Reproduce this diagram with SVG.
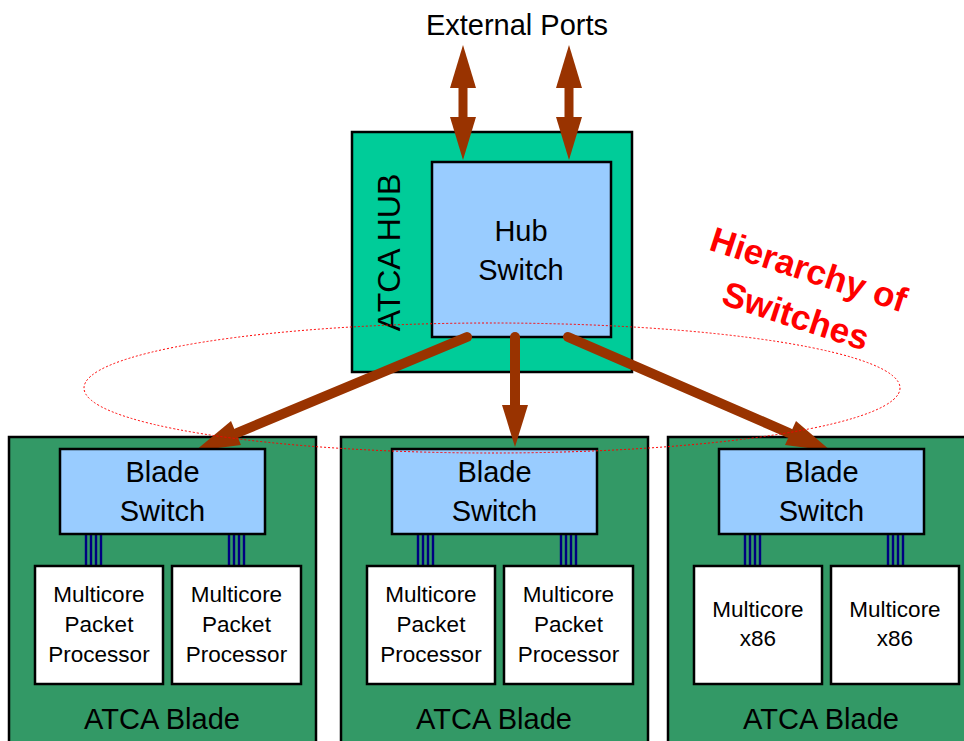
<svg xmlns="http://www.w3.org/2000/svg" width="964" height="741" viewBox="0 0 964 741">
<style>
text{font-family:"Liberation Sans",Arial,sans-serif;fill:#000;text-anchor:middle}
.t29{font-size:29px}
.t22{font-size:22.5px}
.hub{fill:#00CC99;stroke:#000;stroke-width:2.5}
.blade{fill:#339966;stroke:#000;stroke-width:2.5}
.sw{fill:#99CCFF;stroke:#000;stroke-width:2.5}
.cpu{fill:#fff;stroke:#000;stroke-width:2.5}
.bus{stroke:#000080;stroke-width:2.4;fill:none}
.shaft{stroke:#993300;stroke-linecap:round;fill:none}
.head{fill:#993300}
.red{font-size:35px;font-weight:bold;fill:#FF0000}
</style>
<rect width="964" height="741" fill="#fff"/>

<g id="external-ports"><text class="t29" x="517" y="35">External Ports</text></g>

<g id="atca-hub">
<rect class="hub" x="352" y="132" width="280" height="240"/>
<text style="font-size:32px" transform="translate(400,252.5) rotate(-90)" x="0" y="0">ATCA HUB</text>
</g>
<g id="hub-switch">
<rect class="sw" x="432" y="162" width="179" height="175"/>
<text class="t29" x="521" y="241">Hub</text>
<text class="t29" x="521" y="280">Switch</text>
</g>

<g id="blade-1">
<rect class="blade" x="9" y="437" width="307" height="320"/>
<text class="t29" x="162" y="729">ATCA Blade</text>
</g>
<g id="blade-2">
<rect class="blade" x="341" y="437" width="307" height="320"/>
<text class="t29" x="494" y="729">ATCA Blade</text>
</g>
<g id="blade-3">
<rect class="blade" x="668" y="437" width="307" height="320"/>
<text class="t29" x="821" y="729">ATCA Blade</text>
</g>

<g id="connectors">
<line class="shaft" stroke-width="9" x1="463" y1="86" x2="463" y2="119"/>
<polygon class="head" points="463,45 476,88 450,88"/>
<polygon class="head" points="463,160 476,117 450,117"/>
<line class="shaft" stroke-width="9" x1="569" y1="86" x2="569" y2="119"/>
<polygon class="head" points="569,45 582,88 556,88"/>
<polygon class="head" points="569,160 582,117 556,117"/>
<line class="shaft" stroke-width="10" x1="467" y1="337" x2="237" y2="433"/>
<polygon class="head" points="195,451 241,445 231,421"/>
<line class="shaft" stroke-width="10" x1="515" y1="337" x2="515" y2="408"/>
<polygon class="head" points="515,447 528,405 502,405"/>
<line class="shaft" stroke-width="10" x1="568" y1="337" x2="789" y2="433"/>
<polygon class="head" points="831,451 785,445 796,421"/>
<g class="bus">
<path d="M86 534V566M91 534V566M96 534V566M101 534V566M229 534V566M234 534V566M239 534V566M244 534V566"/>
<path d="M418 534V566M423 534V566M428 534V566M433 534V566M561 534V566M566 534V566M571 534V566M576 534V566"/>
<path d="M745 534V566M750 534V566M755 534V566M760 534V566M888 534V566M893 534V566M898 534V566M903 534V566"/>
</g>
</g>

<g id="blade-switch-1"><rect class="sw" x="60" y="449" width="205" height="85"/>
<text class="t29" x="162.5" y="482">Blade</text><text class="t29" x="162.5" y="521">Switch</text></g>
<g id="blade-switch-2"><rect class="sw" x="392" y="449" width="205" height="85"/>
<text class="t29" x="494.5" y="482">Blade</text><text class="t29" x="494.5" y="521">Switch</text></g>
<g id="blade-switch-3"><rect class="sw" x="719" y="449" width="205" height="85"/>
<text class="t29" x="821.5" y="482">Blade</text><text class="t29" x="821.5" y="521">Switch</text></g>

<g id="proc-1a"><rect class="cpu" x="35" y="566" width="128" height="118"/>
<text class="t22" x="99" y="602">Multicore</text><text class="t22" x="99" y="632">Packet</text><text class="t22" x="99" y="662">Processor</text></g>
<g id="proc-1b"><rect class="cpu" x="172" y="566" width="129" height="118"/>
<text class="t22" x="236.5" y="602">Multicore</text><text class="t22" x="236.5" y="632">Packet</text><text class="t22" x="236.5" y="662">Processor</text></g>
<g id="proc-2a"><rect class="cpu" x="367" y="566" width="128" height="118"/>
<text class="t22" x="431" y="602">Multicore</text><text class="t22" x="431" y="632">Packet</text><text class="t22" x="431" y="662">Processor</text></g>
<g id="proc-2b"><rect class="cpu" x="504" y="566" width="129" height="118"/>
<text class="t22" x="568.5" y="602">Multicore</text><text class="t22" x="568.5" y="632">Packet</text><text class="t22" x="568.5" y="662">Processor</text></g>
<g id="x86-3a"><rect class="cpu" x="694" y="566" width="128" height="118"/>
<text class="t22" x="758" y="617">Multicore</text><text class="t22" x="758" y="646">x86</text></g>
<g id="x86-3b"><rect class="cpu" x="831" y="566" width="128" height="118"/>
<text class="t22" x="895" y="617">Multicore</text><text class="t22" x="895" y="646">x86</text></g>

<g id="hierarchy">
<ellipse cx="492" cy="388" rx="408" ry="65" fill="none" stroke="#FF0000" stroke-width="1" stroke-dasharray="2,2"/>
<g transform="translate(805,281) rotate(18)">
<text class="red" x="0" y="0">Hierarchy of</text>
<text class="red" x="2" y="48">Switches</text>
</g>
</g>
</svg>
